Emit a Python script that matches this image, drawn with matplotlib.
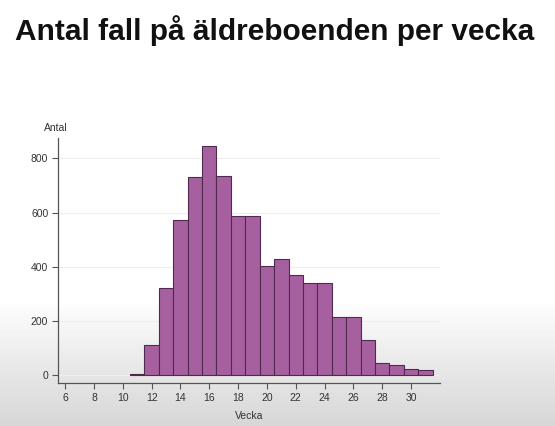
import numpy as np
import matplotlib
matplotlib.use("Agg")
import matplotlib.pyplot as plt

plt.rcParams["font.family"] = ["Liberation Sans", "DejaVu Sans"]

# weekly case counts
weeks = [11, 12, 13, 14, 15, 16, 17, 18, 19, 20, 21,
         22, 23, 24, 25, 26, 27, 28, 29, 30, 31]
cases = [6, 112, 321, 574, 732, 847, 734, 589, 587, 405, 428,
         369, 340, 340, 215, 214, 129, 46, 40, 23, 18]
x_ticks = list(range(6, 31, 2))
y_ticks = [0, 200, 400, 600, 800]

fig = plt.figure(figsize=(5.55, 4.26), dpi=100)

# soft grey gradient at the bottom of the slide
bg = fig.add_axes([0, 0, 1, 1], zorder=-10)
grad = np.ones((426, 1))
rows = np.arange(426)
start = 300
grad[rows > start, 0] = 1 - 0.16 * ((rows[rows > start] - start) / (426 - start)) ** 0.9
bg.imshow(grad, aspect="auto", cmap="gray", vmin=0, vmax=1, extent=[0, 1, 0, 1])
bg.axis("off")

fig.text(0.495, 0.928, "Antal fall på äldreboenden per vecka", ha="center", va="center",
         fontsize=21.5, fontweight="bold", color="#111111")

ax = fig.add_axes([0.1045, 0.101, 0.688, 0.575])
ax.patch.set_alpha(0)
ax.bar(weeks, cases, width=1.0, color="#a7609f", edgecolor="#4e2a4c", linewidth=0.8, zorder=3)

ax.set_xlim(5.5, 32.0)
ax.set_ylim(-28, 875)
ax.set_xticks(x_ticks)
ax.set_yticks(y_ticks)
ax.yaxis.grid(True, color="#eeeeee", linewidth=0.8, zorder=0)
for s in ["top", "right"]:
    ax.spines[s].set_visible(False)
for s in ["left", "bottom"]:
    ax.spines[s].set_color("#555555")
    ax.spines[s].set_linewidth(0.9)
ax.tick_params(axis="both", direction="out", length=4, width=0.8, color="#555555",
               labelsize=7.5, labelcolor="#333333", pad=3)

ax.set_xlabel("Vecka", fontsize=7.5, color="#333333", labelpad=6)
fig.text(0.1, 0.7, "Antal", ha="center", va="center", fontsize=7.5, color="#333333")

fig.savefig("out.png", dpi=100)
